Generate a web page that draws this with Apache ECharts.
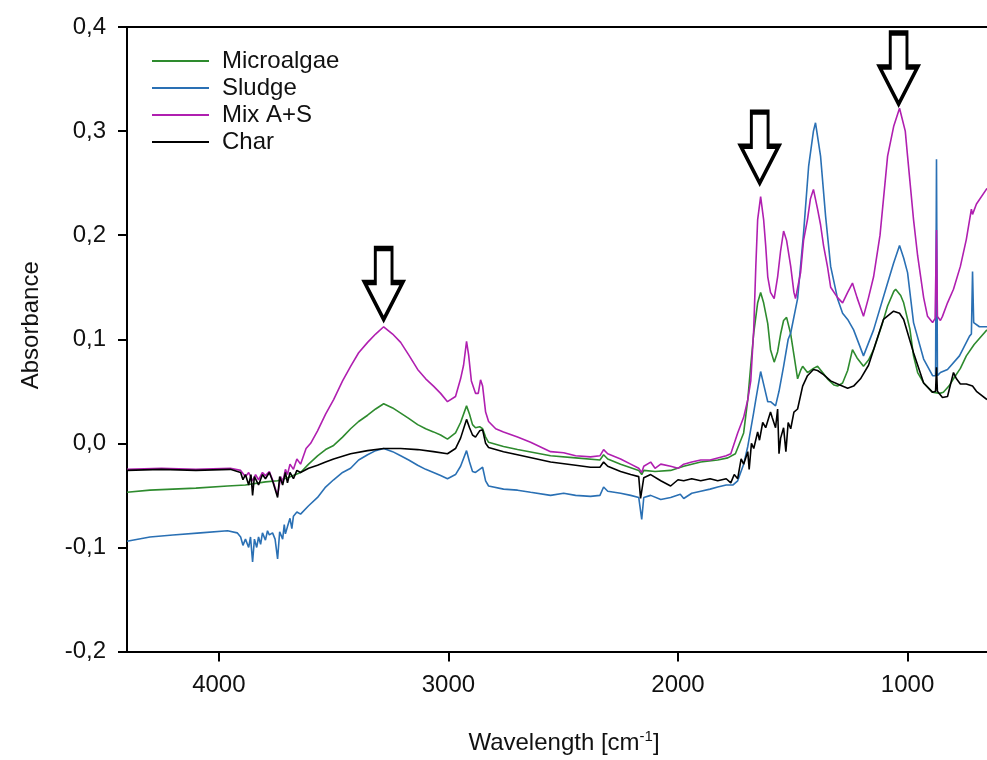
<!DOCTYPE html>
<html>
<head>
<meta charset="utf-8">
<script src="https://cdn.jsdelivr.net/npm/echarts@6/dist/echarts.min.js"></script>
<style>
html,body{margin:0;padding:0;background:#fff;}
#chart{width:987px;height:760px;}
</style>
</head>
<body>
<div id="chart"></div>
<script>
// ---- data (wavenumber cm-1, absorbance) ----
const seriesNames = ['Microalgae', 'Sludge', 'Mix A+S', 'Char'];
const xTicks = [4000, 3000, 2000, 1000];
const yTicks = [-0.2, -0.1, 0.0, 0.1, 0.2, 0.3, 0.4];

const algaeWn = [4400,4300,4200,4100,3962,3884,3797,3744,3700,3644,3609,3570,3535,3500,3461,3426,3391,3352,3317,3282,3243,3208,3173,3134,3099,3065,3034,3004,2969,2947,2921,2908,2895,2882,2864,2851,2838,2825,2760,2699,2555,2446,2340,2324,2306,2250,2171,2158,2149,2100,2032,1975,1901,1827,1783,1750,1714,1696,1683,1670,1653,1640,1627,1609,1597,1581,1566,1553,1540,1527,1509,1495,1479,1466,1457,1436,1410,1392,1370,1349,1320,1305,1283,1261,1240,1220,1192,1170,1148,1110,1087,1060,1052,1030,1017,990,974,956,930,891,860,844,820,800,770,744,710,654];
const algaeAbs = [-0.047,-0.045,-0.044,-0.043,-0.041,-0.040,-0.037,-0.036,-0.033,-0.028,-0.020,-0.012,-0.006,-0.002,0.006,0.014,0.021,0.027,0.033,0.038,0.034,0.029,0.024,0.018,0.014,0.011,0.008,0.004,0.010,0.020,0.036,0.028,0.018,0.015,0.016,0.014,0.006,0.001,-0.003,-0.006,-0.012,-0.014,-0.016,-0.011,-0.015,-0.020,-0.026,-0.030,-0.026,-0.027,-0.026,-0.022,-0.018,-0.016,-0.014,-0.010,0.010,0.042,0.075,0.106,0.135,0.145,0.135,0.115,0.090,0.078,0.088,0.105,0.118,0.121,0.105,0.085,0.062,0.070,0.074,0.068,0.072,0.074,0.068,0.062,0.056,0.055,0.058,0.070,0.090,0.082,0.074,0.080,0.090,0.115,0.132,0.146,0.148,0.142,0.135,0.110,0.084,0.068,0.058,0.049,0.048,0.049,0.055,0.062,0.072,0.084,0.095,0.109];

const sludgeWn = [4400,4300,4200,4080,3962,3920,3905,3895,3884,3870,3862,3853,3845,3835,3827,3818,3810,3797,3788,3780,3766,3755,3744,3735,3722,3715,3710,3701,3690,3682,3675,3660,3644,3609,3570,3535,3500,3461,3426,3391,3352,3317,3282,3243,3208,3173,3134,3099,3065,3034,3004,2969,2947,2921,2908,2895,2882,2864,2851,2838,2825,2760,2699,2642,2555,2498,2446,2381,2340,2324,2306,2250,2206,2171,2158,2149,2119,2075,2032,1990,1975,1940,1901,1860,1827,1790,1760,1740,1714,1696,1670,1661,1640,1625,1609,1597,1575,1560,1540,1520,1509,1479,1453,1431,1410,1401,1379,1357,1335,1305,1283,1261,1235,1192,1148,1087,1061,1035,1017,1000,974,930,891,878,874,870,857,826,774,730,722,717,712,687,654];
const sludgeAbs = [-0.094,-0.090,-0.088,-0.086,-0.084,-0.086,-0.090,-0.098,-0.092,-0.100,-0.090,-0.114,-0.092,-0.100,-0.090,-0.097,-0.086,-0.093,-0.084,-0.088,-0.086,-0.092,-0.111,-0.085,-0.092,-0.078,-0.087,-0.080,-0.072,-0.082,-0.070,-0.066,-0.068,-0.060,-0.052,-0.042,-0.035,-0.028,-0.024,-0.016,-0.011,-0.007,-0.005,-0.008,-0.012,-0.016,-0.021,-0.025,-0.028,-0.031,-0.034,-0.030,-0.022,-0.007,-0.018,-0.027,-0.028,-0.025,-0.023,-0.036,-0.041,-0.044,-0.045,-0.047,-0.050,-0.048,-0.050,-0.051,-0.050,-0.042,-0.046,-0.048,-0.050,-0.052,-0.073,-0.052,-0.050,-0.054,-0.052,-0.049,-0.053,-0.048,-0.046,-0.044,-0.042,-0.040,-0.040,-0.036,-0.020,-0.003,0.030,0.042,0.069,0.055,0.040,0.040,0.036,0.050,0.074,0.100,0.106,0.139,0.202,0.266,0.300,0.308,0.276,0.218,0.170,0.139,0.125,0.119,0.109,0.084,0.109,0.154,0.173,0.190,0.178,0.164,0.116,0.081,0.065,0.065,0.273,0.065,0.068,0.071,0.084,0.103,0.105,0.165,0.116,0.112,0.112];

const mixWn = [4400,4250,4100,3950,3905,3884,3870,3853,3840,3827,3810,3797,3780,3766,3744,3730,3722,3710,3701,3690,3675,3660,3644,3620,3600,3570,3535,3500,3461,3426,3391,3352,3317,3282,3243,3208,3173,3134,3099,3065,3034,3004,2969,2947,2934,2921,2912,2900,2882,2870,2860,2851,2838,2825,2794,2760,2699,2642,2555,2498,2446,2381,2340,2324,2306,2250,2206,2171,2158,2149,2119,2100,2075,2032,2000,1975,1940,1901,1860,1827,1790,1770,1740,1714,1696,1683,1670,1661,1653,1640,1627,1618,1609,1597,1581,1566,1553,1540,1527,1509,1495,1488,1466,1453,1436,1423,1410,1392,1379,1366,1349,1335,1305,1283,1261,1240,1220,1192,1170,1148,1120,1087,1060,1035,1010,1000,974,956,930,913,891,880,874,870,857,848,826,800,770,744,722,717,700,654];
const mixAbs = [-0.025,-0.024,-0.025,-0.024,-0.026,-0.032,-0.028,-0.036,-0.030,-0.035,-0.028,-0.031,-0.027,-0.035,-0.050,-0.032,-0.038,-0.025,-0.030,-0.020,-0.025,-0.015,-0.020,-0.005,0.000,0.012,0.028,0.042,0.060,0.074,0.087,0.097,0.105,0.112,0.105,0.097,0.085,0.071,0.062,0.055,0.048,0.040,0.045,0.062,0.075,0.098,0.085,0.060,0.048,0.048,0.061,0.055,0.030,0.021,0.014,0.011,0.006,0.001,-0.008,-0.009,-0.012,-0.013,-0.012,-0.006,-0.010,-0.015,-0.020,-0.024,-0.028,-0.022,-0.018,-0.024,-0.020,-0.022,-0.024,-0.020,-0.018,-0.016,-0.016,-0.014,-0.012,-0.010,0.010,0.025,0.042,0.060,0.110,0.170,0.215,0.237,0.215,0.190,0.160,0.145,0.139,0.160,0.185,0.204,0.195,0.170,0.145,0.139,0.164,0.195,0.215,0.235,0.244,0.225,0.210,0.190,0.170,0.150,0.140,0.135,0.145,0.154,0.140,0.122,0.140,0.160,0.200,0.276,0.305,0.322,0.300,0.276,0.215,0.180,0.140,0.122,0.116,0.120,0.205,0.122,0.118,0.122,0.135,0.148,0.170,0.196,0.225,0.220,0.230,0.245];

const charWn = [4400,4250,4100,3950,3905,3895,3884,3870,3860,3853,3845,3827,3810,3797,3780,3766,3744,3735,3722,3710,3701,3690,3675,3660,3644,3609,3570,3535,3500,3426,3352,3282,3208,3134,3065,3004,2969,2947,2921,2908,2895,2882,2864,2851,2838,2825,2760,2699,2555,2446,2381,2340,2324,2306,2250,2206,2171,2163,2149,2119,2075,2032,2000,1975,1940,1901,1860,1827,1790,1770,1755,1740,1725,1714,1696,1690,1680,1670,1653,1645,1631,1618,1597,1590,1575,1566,1560,1553,1540,1530,1520,1509,1495,1479,1457,1436,1410,1392,1366,1335,1305,1261,1235,1205,1170,1148,1105,1061,1035,1017,974,930,891,878,874,870,848,826,800,787,770,744,717,700,654];
const charAbs = [-0.026,-0.025,-0.026,-0.025,-0.028,-0.035,-0.030,-0.040,-0.030,-0.050,-0.032,-0.040,-0.030,-0.034,-0.028,-0.036,-0.052,-0.032,-0.040,-0.028,-0.038,-0.028,-0.034,-0.026,-0.028,-0.024,-0.021,-0.018,-0.015,-0.010,-0.007,-0.005,-0.005,-0.006,-0.008,-0.010,-0.005,0.005,0.023,0.015,0.008,0.006,0.012,0.013,0.000,-0.004,-0.008,-0.011,-0.018,-0.021,-0.023,-0.023,-0.018,-0.022,-0.027,-0.030,-0.032,-0.053,-0.033,-0.030,-0.036,-0.041,-0.035,-0.036,-0.034,-0.036,-0.034,-0.036,-0.034,-0.038,-0.030,-0.034,-0.015,-0.020,-0.008,-0.025,0.000,-0.005,0.011,0.003,0.020,0.015,0.030,0.025,0.015,0.033,-0.010,0.005,0.015,-0.008,0.020,0.014,0.030,0.033,0.055,0.065,0.071,0.070,0.066,0.060,0.057,0.053,0.055,0.062,0.075,0.090,0.119,0.127,0.125,0.119,0.087,0.058,0.049,0.050,0.073,0.050,0.044,0.045,0.068,0.062,0.057,0.057,0.055,0.050,0.042];

// arrow annotations: peak positions (wavenumber, absorbance at arrow tip)
const arrowWn = [3282, 1644, 1039];
const arrowAbs = [0.119, 0.250, 0.326];

const colors = ['#2e8b2e', '#2a70b4', '#b01fb0', '#000000'];
// -----------------------------------------------------------------

function zip(a, b) { return a.map((v, i) => [v, b[i]]); }
const dataSets = [zip(algaeWn, algaeAbs), zip(sludgeWn, sludgeAbs), zip(mixWn, mixAbs), zip(charWn, charAbs)];

const FONT = 'Liberation Sans';
const fmtY = v => (Math.round(v * 10) / 10).toFixed(1).replace('.', ',');

const chart = echarts.init(document.getElementById('chart'), null, {renderer: 'canvas'});

const series = seriesNames.map((name, i) => ({
  name: name,
  type: 'line',
  data: dataSets[i],
  symbol: 'none',
  lineStyle: {width: 1.6, color: colors[i]},
  itemStyle: {color: colors[i]},
  z: i === 3 ? 4 : 2 + i * 0.1
}));

series[2].markPoint = {
  symbol: 'path://M28,0 L72,0 L72,48 L100,48 L50,100 L0,48 L28,48 Z',
  symbolSize: [38, 71],
  symbolOffset: [0, '-50%'],
  itemStyle: {color: '#ffffff', borderColor: '#000000', borderWidth: 4},
  label: {show: false},
  silent: true,
  data: arrowWn.map((w, i) => ({coord: [w, arrowAbs[i]]}))
};

chart.setOption({
  animation: false,
  backgroundColor: '#ffffff',
  textStyle: {fontFamily: FONT},
  color: colors,
  legend: {
    show: true,
    orient: 'vertical',
    left: 152,
    top: 49,
    padding: 0,
    itemGap: 3,
    itemWidth: 57,
    itemHeight: 2,
    icon: 'rect',
    selectedMode: false,
    data: seriesNames,
    textStyle: {fontFamily: FONT, fontSize: 24, color: '#111', padding: [0, 0, 0, 8]}
  },
  grid: {left: 127, right: 0, top: 27, bottom: 106, containLabel: false},
  xAxis: [{
    type: 'value',
    inverse: true,
    min: 654,
    max: 4400,
    name: 'Wavelength [cm{sup|-1}]',
    nameLocation: 'middle',
    nameGap: 78,
    nameTextStyle: {
      fontFamily: FONT, fontSize: 24, color: '#111', padding: [0, 0, 0, 14],
      rich: {sup: {fontFamily: FONT, fontSize: 15, color: '#111', padding: [0, 0, 12, 0]}}
    },
    axisLine: {show: true, onZero: false, lineStyle: {color: '#000', width: 2}},
    axisTick: {show: true, inside: false, length: 10, customValues: xTicks, lineStyle: {color: '#000', width: 2}},
    axisLabel: {show: true, margin: 22, customValues: xTicks, fontFamily: FONT, fontSize: 24, color: '#111', formatter: v => String(v)},
    splitLine: {show: false}
  }, {
    type: 'value',
    position: 'top',
    inverse: true,
    min: 654,
    max: 4400,
    axisLine: {show: true, onZero: false, lineStyle: {color: '#000', width: 2}},
    axisTick: {show: false},
    axisLabel: {show: false},
    splitLine: {show: false}
  }],
  yAxis: {
    type: 'value',
    min: -0.2,
    max: 0.4,
    interval: 0.1,
    name: 'Absorbance',
    nameLocation: 'middle',
    nameGap: 84,
    nameTextStyle: {fontFamily: FONT, fontSize: 24, color: '#111', padding: [0, 0, 0, 28]},
    axisLine: {show: true, onZero: false, lineStyle: {color: '#000', width: 2}},
    axisTick: {show: true, inside: false, length: 9, lineStyle: {color: '#000', width: 2}},
    axisLabel: {show: true, margin: 21, fontFamily: FONT, fontSize: 24, color: '#111', formatter: fmtY},
    splitLine: {show: false}
  },
  series: series
});
</script>
</body>
</html>
